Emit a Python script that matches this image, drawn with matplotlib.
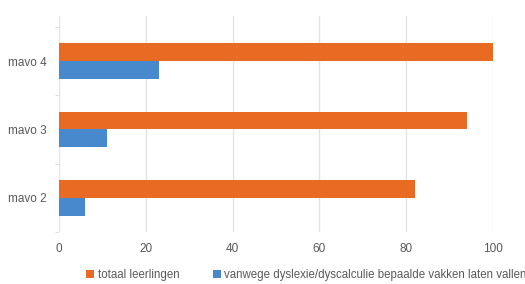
import matplotlib.pyplot as plt
import numpy as np

categories = ['mavo 2', 'mavo 3', 'mavo 4']
totaal = [82, 94, 100]
dyslexie = [6, 11, 23]
series_names = ['totaal leerlingen', 'vanwege dyslexie/dyscalculie bepaalde vakken laten vallen']

orange = '#E96A22'
blue = '#4888CC'
grey = '#595959'

plt.rcParams['font.family'] = ['Liberation Sans', 'DejaVu Sans']

fig = plt.figure(figsize=(5.25, 2.84), dpi=100)
ax = fig.add_axes([59 / 525, 1 - 232 / 284, (493 - 59) / 525, (232 - 16) / 284])

y = np.arange(len(categories))
h = 0.26
b1 = ax.barh(y + h / 2, totaal, height=h, color=orange, label=series_names[0])
b2 = ax.barh(y - h / 2, dyslexie, height=h, color=blue, label=series_names[1])

ax.set_xlim(0, 100)
ax.set_ylim(-0.5, 2.66)
ax.set_xticks(range(0, 101, 20))
ax.set_yticks(y)
ax.set_yticklabels(categories)
ax.set_yticks([-0.5, 0.5, 1.5, 2.5], minor=True)
ax.tick_params(axis='y', which='major', length=0, pad=9, labelsize=8.5, labelcolor=grey)
ax.tick_params(axis='y', which='minor', length=3, color='#d9d9d9')
ax.tick_params(axis='x', length=0, pad=8, labelsize=8.5, labelcolor=grey)
ax.grid(axis='x', color='#e3e3e3', linewidth=1)
ax.set_axisbelow(True)
for s in ax.spines.values():
    s.set_visible(False)

fig.legend(handles=[b1, b2], loc='center left', bbox_to_anchor=(86 / 525, 1 - 275 / 284),
           ncol=2, frameon=False, fontsize=8.3, labelcolor=grey,
           handlelength=0.7, handleheight=0.7, handletextpad=0.3, columnspacing=2.9,
           borderaxespad=0, borderpad=0)

fig.savefig('out.png', dpi=100)
